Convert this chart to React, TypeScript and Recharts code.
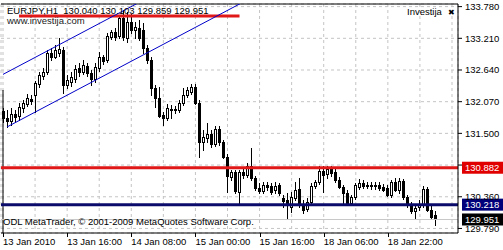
import React from 'react';
import { ComposedChart, Bar, XAxis, YAxis, CartesianGrid, ReferenceLine } from 'recharts';

// EURJPY H1 candles (oldest first)
const opens = [
  131.902, 131.776, 131.722, 131.848, 131.812, 131.956, 132.028, 132.118, 132.190, 132.388,
  132.532, 132.604, 132.946, 132.874, 132.946, 133.000, 132.370, 132.424, 132.478, 132.676,
  132.604, 132.712, 132.586, 132.478, 132.676, 132.874, 132.820, 133.233, 133.323, 133.251,
  133.575, 133.215, 133.503, 133.359, 133.395, 133.359, 133.035, 132.820, 132.316, 132.136,
  131.830, 131.776, 131.938, 131.920, 131.920, 132.046, 132.190, 132.244, 132.334, 132.046,
  131.345, 131.417, 131.489, 131.309, 131.579, 131.345, 131.075, 130.715, 130.805, 130.445,
  130.805, 130.751, 130.913, 130.697, 130.517, 130.463, 130.571, 130.553, 130.481, 130.571,
  130.338, 130.302, 130.176, 130.338, 130.499, 130.212, 130.140, 130.266, 130.553, 130.625,
  130.823, 130.769, 130.859, 130.805, 130.661, 130.535, 130.427, 130.248, 130.356, 130.535,
  130.607, 130.571, 130.553, 130.571, 130.571, 130.535, 130.517, 130.392, 130.625, 130.481,
  130.643, 130.356, 130.212, 130.104, 130.176, 130.212, 130.499, 130.122, 130.040,
];
const highs = [
  131.956, 131.920, 131.956, 131.920, 132.046, 132.100, 132.208, 132.190, 132.442, 132.604,
  132.676, 133.000, 133.035, 133.089, 133.215, 133.053, 132.550, 132.604, 132.730, 132.766,
  132.820, 132.766, 132.640, 132.766, 132.964, 132.910, 133.305, 133.359, 133.395, 133.629,
  133.719, 133.683, 133.647, 133.503, 133.539, 133.485, 133.089, 132.874, 132.370, 132.334,
  131.884, 132.028, 132.010, 131.992, 132.100, 132.316, 132.334, 132.388, 132.388, 132.100,
  131.561, 131.686, 131.561, 131.632, 131.632, 131.381, 131.129, 130.841, 130.841, 130.841,
  130.877, 130.967, 131.237, 130.733, 130.607, 130.625, 130.625, 130.607, 130.625, 130.607,
  130.392, 130.427, 130.445, 130.625, 130.697, 130.302, 130.338, 130.607, 130.661, 130.913,
  130.913, 130.913, 130.913, 130.877, 130.715, 130.571, 130.481, 130.392, 130.607, 130.679,
  130.661, 130.625, 130.625, 130.625, 130.625, 130.589, 130.571, 130.661, 130.697, 130.697,
  130.679, 130.392, 130.266, 130.194, 130.302, 130.553, 130.535, 130.194, 130.103,
];
const lows = [
  131.704, 131.614, 131.650, 131.704, 131.740, 131.884, 131.992, 132.028, 131.884, 132.334,
  132.478, 132.568, 132.820, 132.856, 132.892, 132.226, 132.316, 132.352, 132.424, 132.532,
  132.568, 132.532, 132.370, 132.424, 132.622, 132.748, 132.784, 133.197, 133.179, 133.215,
  133.179, 133.143, 133.305, 133.215, 133.179, 132.946, 132.766, 132.190, 131.974, 131.794,
  131.650, 131.740, 131.776, 131.866, 131.884, 132.010, 132.154, 132.208, 132.028, 131.075,
  131.201, 131.345, 131.255, 131.273, 131.291, 131.057, 130.445, 130.661, 130.427, 130.248,
  130.697, 130.715, 130.661, 130.481, 130.427, 130.427, 130.481, 130.409, 130.427, 130.392,
  130.176, 129.978, 130.086, 130.302, 130.176, 130.068, 130.104, 130.230, 130.517, 130.589,
  130.445, 130.697, 130.733, 130.625, 130.517, 130.212, 130.212, 130.212, 130.320, 130.499,
  130.517, 130.517, 130.499, 130.499, 130.481, 130.463, 130.374, 130.356, 130.463, 130.427,
  130.320, 130.176, 130.068, 129.978, 130.122, 130.176, 130.104, 129.978, 129.859,
];
const closes = [
  131.776, 131.722, 131.848, 131.794, 131.974, 132.046, 132.136, 132.082, 132.406, 132.550,
  132.604, 132.946, 132.874, 133.000, 133.018, 132.370, 132.460, 132.514, 132.658, 132.604,
  132.730, 132.586, 132.478, 132.694, 132.874, 132.802, 133.251, 133.323, 133.233, 133.575,
  133.233, 133.503, 133.359, 133.413, 133.215, 133.035, 132.820, 132.316, 132.136, 131.812,
  131.776, 131.956, 131.920, 131.938, 132.046, 132.190, 132.280, 132.334, 132.046, 131.345,
  131.435, 131.489, 131.309, 131.579, 131.345, 131.075, 130.733, 130.805, 130.463, 130.805,
  130.751, 130.913, 130.697, 130.517, 130.463, 130.571, 130.535, 130.445, 130.553, 130.427,
  130.284, 130.248, 130.356, 130.481, 130.212, 130.122, 130.266, 130.553, 130.625, 130.823,
  130.751, 130.859, 130.787, 130.661, 130.535, 130.427, 130.248, 130.356, 130.571, 130.607,
  130.553, 130.553, 130.571, 130.553, 130.517, 130.481, 130.392, 130.625, 130.481, 130.643,
  130.356, 130.212, 130.104, 130.158, 130.230, 130.499, 130.122, 129.996, 129.951,
];

const SLOTS = 114; // bars + empty shift on the right
const yTicks = [133.78, 133.21, 132.64, 132.07, 131.5, 130.93, 130.36, 129.79];
const gridIdx = [0, 8, 16, 24, 32, 40, 48, 56, 64, 72, 80, 88, 96, 104, 112];
const labelIdx = [0, 16, 32, 48, 64, 80, 96];
const labelText = ['13 Jan 2010', '13 Jan 16:00', '14 Jan 08:00', '15 Jan 00:00', '15 Jan 16:00', '18 Jan 06:00', '18 Jan 22:00'];

const resistance = 130.882;
const support = 130.218;
const bid = 129.951;
const topLevel = 133.611;
const topLevelIdx = [4, 59];
const upperChannel = [{ x: 0, y: 132.561 }, { x: 34, y: 133.857 }];
const lowerChannel = [{ x: 1, y: 131.615 }, { x: 61, y: 133.903 }];
const leftMarker = [{ x: 0, y: 132.28 }, { x: 0, y: 129.7 }];

const FONT = '"Liberation Sans", Arial, sans-serif';

const data = Array.from({ length: SLOTS }, (_, i) =>
  i < opens.length
    ? { i, o: opens[i], h: highs[i], l: lows[i], c: closes[i], range: [lows[i], highs[i]] }
    : { i, range: null }
);

function Candle(props: any) {
  const { x, y, width, height, payload } = props;
  if (!payload || payload.o == null) return null;
  const { o, h, l, c } = payload;
  const top = Math.min(y, y + height);
  const hh = Math.abs(height);
  const span = h - l || 1;
  const py = (p: number) => top + ((h - p) / span) * hh;
  const cx = Math.floor(x + width / 2) + 0.5;
  const b1 = Math.round(py(Math.max(o, c))) + 0.5;
  const b2 = Math.round(py(Math.min(o, c))) + 0.5;
  const bull = c > o;
  return (
    <g shapeRendering="crispEdges">
      <line x1={cx} x2={cx} y1={Math.round(top)} y2={Math.round(top + hh) + 1} stroke="#000" strokeWidth={1} />
      <path
        d={`M${cx - 1} ${b1}H${cx + 1}V${b2}H${cx - 1}Z`}
        fill={bull ? '#fff' : '#000'}
        stroke="#000"
        strokeWidth={1}
      />
    </g>
  );
}

function XTick(props: any) {
  const { x, y, payload } = props;
  const k = labelIdx.indexOf(payload.value);
  if (k < 0) return null;
  return (
    <g>
      <line x1={x + 0.5} x2={x + 0.5} y1={y - 4} y2={y} stroke="#000" shapeRendering="crispEdges" />
      <text x={x} y={y + 8} fontSize={9.5} fontFamily={FONT} fill="#000">{labelText[k]}</text>
    </g>
  );
}

function YTick(props: any) {
  const { x, y, payload } = props;
  if (Math.abs(payload.value - 130.93) < 0.001) return null;
  return (
    <text x={x} y={y} dy={3.5} fontSize={9.5} fontFamily={FONT} fill="#000">{payload.value.toFixed(3)}</text>
  );
}

function PriceBox(props: any) {
  const { viewBox, bg, value } = props;
  if (!viewBox) return null;
  const x = viewBox.x + viewBox.width + 4;
  const y = viewBox.y;
  return (
    <g>
      <rect x={x} y={y - 6} width={503 - x} height={12} fill={bg} />
      <text x={x + 3} y={y + 3.5} fontSize={9.5} fontFamily={FONT} fill="#fff">{value.toFixed(3)}</text>
    </g>
  );
}

export default function App() {
  return (
    <div style={{ position: 'relative', width: 503, height: 250, background: '#fff', fontFamily: FONT }}>
      <style>{'body{margin:0}'}</style>
      <ComposedChart
        width={503}
        height={250}
        data={data}
        margin={{ top: 4, right: 0, bottom: 0, left: 1 }}
        barCategoryGap={0}
      >
        <CartesianGrid stroke="#c4c4c4" strokeDasharray="3 3" />
        <XAxis
          dataKey="i"
          type="category"
          ticks={gridIdx}
          interval={0}
          height={17}
          tickSize={4}
          tickMargin={0}
          tickLine={false}
          axisLine={{ stroke: '#000' }}
          tick={<XTick />}
        />
        <YAxis
          orientation="right"
          width={45}
          domain={[129.708, 133.827]}
          allowDataOverflow
          ticks={yTicks}
          interval={0}
          tickSize={4}
          tickMargin={3}
          axisLine={{ stroke: '#000' }}
          tickLine={{ stroke: '#000' }}
          tick={<YTick />}
        />
        <ReferenceLine y={133.827} stroke="#000" strokeWidth={1} />
        <ReferenceLine segment={leftMarker} stroke="#000" strokeWidth={1} ifOverflow="hidden" />
        <ReferenceLine y={bid} stroke="#c8c8c8" strokeWidth={1} label={<PriceBox bg="#000" value={bid} />} />
        <ReferenceLine y={resistance} stroke="#e01818" strokeWidth={3} label={<PriceBox bg="#e00000" value={resistance} />} />
        <ReferenceLine y={support} stroke="#0b0b6b" strokeWidth={3} label={<PriceBox bg="#00007a" value={support} />} />
        <Bar dataKey="range" shape={<Candle />} isAnimationActive={false} />
        <ReferenceLine
          segment={[{ x: topLevelIdx[0], y: topLevel }, { x: topLevelIdx[1], y: topLevel }]}
          stroke="#e01818"
          strokeWidth={3}
        />
        <ReferenceLine segment={upperChannel} stroke="#0000c8" strokeWidth={1} ifOverflow="hidden" />
        <ReferenceLine segment={lowerChannel} stroke="#0000c8" strokeWidth={1} ifOverflow="hidden" />
      </ComposedChart>
      <div style={{ position: 'absolute', left: 7, top: 5, fontSize: 9.5, whiteSpace: 'pre', color: '#000' }}>
        EURJPY,H1  130.040 130.103 129.859 129.951
      </div>
      <div style={{ position: 'absolute', left: 7, top: 15, fontSize: 9.5, color: '#222' }}>www.investija.com</div>
      <div style={{ position: 'absolute', left: 407, top: 6, fontSize: 9.5, color: '#000' }}>
        Investija <span style={{ fontSize: 8, marginLeft: 3 }}>✖</span>
      </div>
      <div style={{ position: 'absolute', left: 3, top: 216, fontSize: 9.5, color: '#000' }}>
        ODL MetaTrader, © 2001-2009 MetaQuotes Software Corp.
      </div>
    </div>
  );
}
